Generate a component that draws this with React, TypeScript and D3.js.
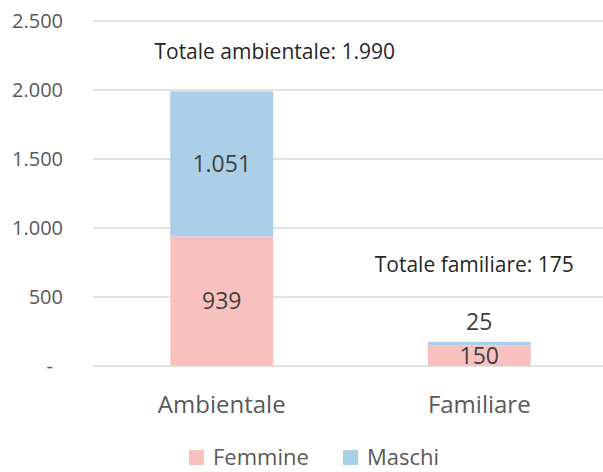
import React, { useEffect, useRef } from "react";
import * as d3 from "d3";

const categories = ["Ambientale", "Familiare"];
const femmine = [939, 150];
const maschi = [1051, 25];
const totalNames = ["Totale ambientale", "Totale familiare"];
const yTicks = [0, 500, 1000, 1500, 2000, 2500];
const seriesNames = ["Femmine", "Maschi"];
const colors = ["#f8c1c0", "#abcfe7"];

const it = d3.formatLocale({ decimal: ",", thousands: ".", grouping: [3], currency: ["€", ""] });
const fmt = it.format(",");

export default function App() {
  const svgRef = useRef<SVGSVGElement | null>(null);

  useEffect(() => {
    const svg = d3.select(svgRef.current);
    svg.selectAll("*").remove();

    const font = "'Open Sans', sans-serif";
    const x = d3.scaleBand().domain(categories).range([93, 608]).padding(0);
    const y = d3.scaleLinear().domain([0, 2500]).range([366, 21]);
    const barW = x.bandwidth() * 0.4;

    // gridlines
    svg.append("g")
      .selectAll("line")
      .data(yTicks)
      .join("line")
      .attr("x1", 93)
      .attr("x2", 608)
      .attr("y1", (d) => y(d))
      .attr("y2", (d) => y(d))
      .attr("stroke", "#d9d9d9")
      .attr("stroke-width", 1.5);

    // y labels
    svg.append("g")
      .selectAll("text")
      .data(yTicks)
      .join("text")
      .attr("x", (d) => (d === 0 ? 53 : 63))
      .attr("y", (d) => y(d))
      .attr("dy", "0.35em")
      .attr("text-anchor", "end")
      .attr("font-family", font)
      .attr("font-size", 20)
      .attr("fill", "#595959")
      .text((d) => (d === 0 ? "-" : fmt(d)));

    const stack = d3.stack<number>().keys(["0", "1"]).value((i, k) => (k === "0" ? femmine[i] : maschi[i]));
    const layers = stack(categories.map((_, i) => i));

    layers.forEach((layer, li) => {
      svg.append("g")
        .selectAll("rect")
        .data(layer)
        .join("rect")
        .attr("x", (d) => x(categories[d.data])! + (x.bandwidth() - barW) / 2)
        .attr("width", barW)
        .attr("y", (d) => y(d[1]))
        .attr("height", (d) => y(d[0]) - y(d[1]))
        .attr("fill", colors[li]);
    });

    // data labels (small segments get their label above the bar)
    layers.forEach((layer) => {
      svg.append("g")
        .selectAll("text")
        .data(layer)
        .join("text")
        .attr("x", (d) => x(categories[d.data])! + x.bandwidth() / 2)
        .attr("y", (d) => {
          const h = y(d[0]) - y(d[1]);
          return h < 20 ? y(d[1]) - 20 : (y(d[0]) + y(d[1])) / 2;
        })
        .attr("dy", "0.35em")
        .attr("text-anchor", "middle")
        .attr("font-family", font)
        .attr("font-size", 23)
        .attr("fill", "#404040")
        .text((d) => fmt(d[1] - d[0]));
    });

    // totals
    const totalPos = [
      { dx: 53, y: 52 },
      { dx: -5, y: 265 },
    ];
    svg.append("g")
      .selectAll("text")
      .data(categories)
      .join("text")
      .attr("x", (d, i) => x(d)! + x.bandwidth() / 2 + totalPos[i].dx)
      .attr("y", (_, i) => totalPos[i].y)
      .attr("dy", "0.35em")
      .attr("text-anchor", "middle")
      .attr("font-family", font)
      .attr("font-size", 21)
      .attr("fill", "#262626")
      .text((_, i) => `${totalNames[i]}: ${fmt(femmine[i] + maschi[i])}`);

    // category labels
    svg.append("g")
      .selectAll("text")
      .data(categories)
      .join("text")
      .attr("x", (d) => x(d)! + x.bandwidth() / 2)
      .attr("y", 405)
      .attr("dy", "0.35em")
      .attr("text-anchor", "middle")
      .attr("font-family", font)
      .attr("font-size", 24)
      .attr("fill", "#595959")
      .text((d) => d);

    // legend
    const legendX = [189, 343];
    const lg = svg.append("g")
      .selectAll("g")
      .data(seriesNames)
      .join("g")
      .attr("transform", (_, i) => `translate(${legendX[i]},450)`);
    lg.append("rect").attr("width", 15).attr("height", 15).attr("fill", (_, i) => colors[i]);
    lg.append("text")
      .attr("x", 24)
      .attr("y", 7)
      .attr("dy", "0.35em")
      .attr("font-family", font)
      .attr("font-size", 22)
      .attr("fill", "#595959")
      .text((d) => d);
  }, []);

  return (
    <svg
      ref={svgRef}
      width={603}
      height={472}
      style={{ position: "absolute", left: 0, top: 0, background: "white" }}
    />
  );
}
